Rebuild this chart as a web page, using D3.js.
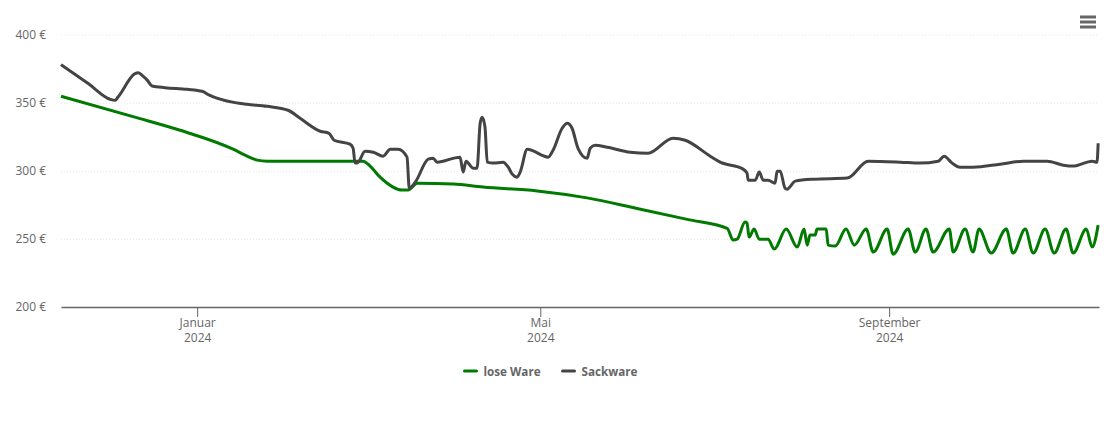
<!DOCTYPE html>
<html>
<head>
<meta charset="utf-8">
<script src="https://cdn.jsdelivr.net/npm/d3@7"></script>
<style>
html, body { margin: 0; padding: 0; background: #fff; }
text { font-family: "Open Sans", sans-serif; }
</style>
</head>
<body>
<div class="chart"></div>
<script>
// days counted from 1 Jan 2024, values in euro
var looseDays = [-48, -22.6, -6, 12.7, 16.9, 21.2, 24.7, 58.5, 61, 64.5, 72.3, 74.4, 77.6, 90.3, 100.8, 119.9, 137.5, 155.1, 172.8, 186.9,
    189, 190.4, 193.2, 193.9, 194.6, 196.4, 198.2, 201.3, 203.5, 207.7, 211.6, 214, 215.1, 216.1, 217.9, 218.6, 221.8, 222.5, 225, 228.8,
    231.7, 235.9, 238.4, 243.3, 245.4, 250.7, 253.2, 257, 259.5, 265.2, 266.6, 270.8, 273.6, 275.7, 280, 285.3, 287.7, 292, 294.8, 299,
    302.2, 306.4, 308.9, 313.5, 315.6, 317.7];
var looseValues = [354.7, 339.7, 329.7, 315.8, 311.4, 307.8, 307, 307, 303.4, 295.3, 285.8, 285.8, 290.9, 290.2, 288, 285.2, 280.1, 272.3, 264.3, 257.7,
    249.1, 249.8, 262.3, 261.6, 251.3, 257.2, 249.8, 249.8, 242.5, 257.2, 244, 257.2, 245.4, 252.8, 252.8, 257.2, 257.2, 245.4, 244.7, 257.2,
    245.4, 257.2, 240.3, 257.2, 238.8, 257.2, 240.3, 257.2, 240.3, 257.2, 240.3, 257.2, 240.3, 257.2, 239.6, 257.2, 239.6, 257.2, 239.6, 257.2,
    239.6, 257.2, 239.6, 257.2, 244, 260.1];

var sackDays = [-48, -38.4, -30.7, -28.9, -27.9, -21.9, -20.8, -19.4, -17.6, -15.9, -11.3, -3.5, 1.8, 3.9, 13.4, 17.6, 24.7, 32.1, 36.3, 43.4, 46.5,
    48.3, 53.9, 55, 55.7, 56.8, 59.2, 62.1, 65.6, 68.1, 70.9, 74, 74.8, 76.9, 81.5, 83.2, 84.6, 92.7, 93.8, 94.8, 97.3,
    98.7, 99.8, 100.5, 101.5, 102.3, 104.4, 107.9, 109.7, 111.1, 112.8, 113.9, 116.4, 123.8, 125.5, 128.7, 130.5, 132.2, 134.3, 137.5, 138.6,
    140.3, 144.6, 152.7, 159, 167.8, 172.1, 180.9, 184.4, 192.5, 193.9, 194.3, 196.8, 198.2, 199.6, 201.3, 203.8, 204.5, 205.6, 207.3, 208,
    210.9, 217.2, 229.2, 236.6, 247.9, 254.9, 261.3, 263.4, 266.2, 269, 273.6, 283.1, 291.3, 299.7, 305.4, 308.9, 315.6, 317.3, 317.7];
var sackValues = [377.9, 364, 352.5, 351.7, 354.1, 371.3, 372, 370, 366.5, 362.2, 361, 359.8, 358.3, 355.9, 350, 348.8, 347.3, 344.4, 338.5, 329, 327.5,
    322.4, 319.5, 316.5, 305.6, 306.3, 314.3, 313.6, 310.7, 315.8, 315.8, 310, 287.2, 291.6, 308.5, 309.2, 306.3, 310, 299, 307, 301.9,
    301.9, 334.9, 339.3, 332, 306.3, 305.6, 306.3, 302.6, 297.5, 295.3, 299, 315.8, 310, 315.1, 331.2, 334.9, 331.2, 316.5, 309.2, 316.5,
    318.7, 317.3, 313.6, 312.9, 323.9, 322.4, 310.7, 306.3, 301.2, 298.2, 293.1, 293.1, 299, 293.1, 293.1, 290.9, 299.7, 299.7, 287.2, 286.5,
    292.4, 293.8, 294.6, 307, 306.3, 305.6, 307, 310.7, 305.6, 302.6, 302.6, 304.8, 307, 307, 304.1, 303.4, 307, 306.3, 320.2];

var yTicks = [200, 250, 300, 350, 400];
var xTickDates = [new Date(2024, 0, 1), new Date(2024, 4, 1), new Date(2024, 8, 1)];
var xTickMonths = ["Januar", "Mai", "September"];
var xTickYears = ["2024", "2024", "2024"];
var seriesNames = ["lose Ware", "Sackware"];
var seriesColors = ["#007a00", "#444444"];

var start = new Date(2024, 0, 1);
function toDate(day) { return new Date(start.getTime() + day * 864e5); }

var margin = { top: 34.5, right: 11, bottom: 115, left: 61 },
    width = 1110 - margin.left - margin.right,
    height = 422 - margin.top - margin.bottom;

var x = d3.scaleTime()
    .domain([new Date(2023, 10, 14), new Date(2024, 10, 14)])
    .range([0, width]);
var y = d3.scaleLinear()
    .domain([200, 400])
    .range([height, 0]);

var svg = d3.select(".chart").append("svg")
    .attr("width", 1110)
    .attr("height", 422)
    .style("display", "block");

var g = svg.append("g")
    .attr("transform", "translate(" + margin.left + "," + margin.top + ")");

// grid + y labels
var yAxis = g.append("g")
    .call(d3.axisLeft(y).tickValues(yTicks).tickSize(-width).tickPadding(15)
        .tickFormat(function (d) { return d + " €"; }));
yAxis.select(".domain").remove();
yAxis.selectAll("line")
    .attr("stroke", "#e6e6e6")
    .attr("stroke-dasharray", "1,2");
yAxis.selectAll("text")
    .attr("fill", "#666")
    .style("font-size", "12px")
    .style("font-family", "'Open Sans', sans-serif");

// x axis, labels on two rows
var xAxis = g.append("g")
    .attr("transform", "translate(0," + height + ")")
    .call(d3.axisBottom(x).tickValues(xTickDates).tickSize(10).tickSizeOuter(0).tickFormat(""));
xAxis.select(".domain").attr("stroke", "#666").attr("stroke-width", 1.5);
xAxis.selectAll("line").attr("stroke", "#666");
xAxis.selectAll(".tick text").remove();
xAxis.selectAll(".tick").append("text")
    .attr("text-anchor", "middle")
    .attr("fill", "#666")
    .style("font-size", "12px")
    .selectAll("tspan")
    .data(function (d, i) { return [xTickMonths[i], xTickYears[i]]; })
    .enter().append("tspan")
    .attr("x", 0)
    .attr("y", function (d, i) { return 20 + i * 15; })
    .text(function (d) { return d; });

var line = d3.line()
    .x(function (d) { return x(toDate(d[0])); })
    .y(function (d) { return y(d[1]); })
    .curve(d3.curveMonotoneX);

g.append("path")
    .attr("d", line(d3.zip(looseDays, looseValues)))
    .attr("fill", "none")
    .attr("stroke", seriesColors[0])
    .attr("stroke-width", 3)
    .attr("stroke-linejoin", "round");

g.append("path")
    .attr("d", line(d3.zip(sackDays, sackValues)))
    .attr("fill", "none")
    .attr("stroke", seriesColors[1])
    .attr("stroke-width", 3)
    .attr("stroke-linejoin", "round");

// legend
var legendX = [463, 561];
var legend = svg.selectAll(".legend")
    .data(seriesNames)
    .enter().append("g")
    .attr("class", "legend")
    .attr("transform", function (d, i) { return "translate(" + legendX[i] + ",371)"; });
legend.append("line")
    .attr("x1", 1.5).attr("x2", 13.5)
    .attr("stroke", function (d, i) { return seriesColors[i]; })
    .attr("stroke-width", 3)
    .attr("stroke-linecap", "round");
legend.append("text")
    .attr("x", 20.5)
    .attr("y", 4.5)
    .attr("fill", "#666")
    .style("font-size", "11.7px")
    .style("font-weight", "bold")
    .text(function (d) { return d; });

// menu button
svg.append("g").selectAll("rect")
    .data([0, 1, 2])
    .enter().append("rect")
    .attr("x", 1080)
    .attr("y", function (d) { return 15.5 + d * 5; })
    .attr("width", 16)
    .attr("height", 3)
    .attr("fill", "#666");
</script>
</body>
</html>
